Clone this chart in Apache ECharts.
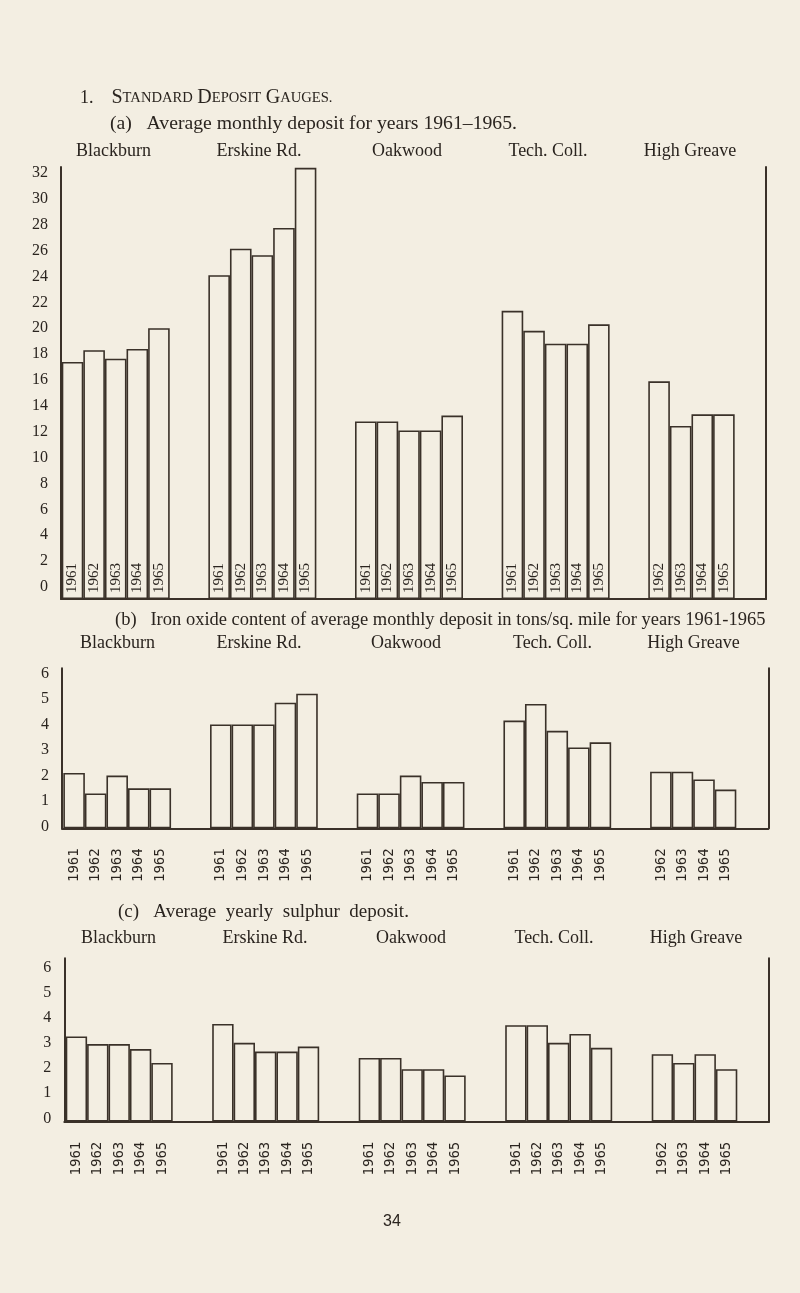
<!DOCTYPE html>
<html>
<head>
<meta charset="utf-8">
<script src="https://cdn.jsdelivr.net/npm/echarts@6/dist/echarts.min.js"></script>
<style>
html,body{margin:0;padding:0;background:#f3eee2;}
#chart{width:800px;height:1293px;}
</style>
</head>
<body>
<div id="chart"></div>
<script>
// ---------------- DATA ----------------
const stations = ['Blackburn', 'Erskine Rd.', 'Oakwood', 'Tech. Coll.', 'High Greave'];
const yearsFull = ['1961', '1962', '1963', '1964', '1965'];
const yearsHighGreave = ['1962', '1963', '1964', '1965'];
const ticksA = ['0','2','4','6','8','10','12','14','16','18','20','22','24','26','28','30','32'];
const ticksBC = ['0','1','2','3','4','5','6'];

// (a) Average monthly deposit
const monthlyBlackburn  = [17.4, 18.3, 17.65, 18.4, 20.0];
const monthlyErskine    = [24.1, 26.15, 25.65, 27.75, 32.4];
const monthlyOakwood    = [12.8, 12.8, 12.1, 12.1, 13.25];
const monthlyTechColl   = [21.35, 19.8, 18.8, 18.8, 20.3];
const monthlyHighGreave = [15.9, 12.45, 13.35, 13.35];

// (b) Iron oxide content of average monthly deposit
const ironBlackburn  = [2.1, 1.3, 2.0, 1.5, 1.5];
const ironErskine    = [4.0, 4.0, 4.0, 4.85, 5.2];
const ironOakwood    = [1.3, 1.3, 2.0, 1.75, 1.75];
const ironTechColl   = [4.15, 4.8, 3.75, 3.1, 3.3];
const ironHighGreave = [2.15, 2.15, 1.85, 1.45];

// (c) Average yearly sulphur deposit
const sulphurBlackburn  = [3.25, 2.95, 2.95, 2.75, 2.2];
const sulphurErskine    = [3.75, 3.0, 2.65, 2.65, 2.85];
const sulphurOakwood    = [2.4, 2.4, 1.95, 1.95, 1.7];
const sulphurTechColl   = [3.7, 3.7, 3.0, 3.35, 2.8];
const sulphurHighGreave = [2.55, 2.2, 2.55, 1.95];

// ---------------- STYLE / LAYOUT ----------------
const BG = '#f3eee2', INK = '#3a3129', TXT = '#2a241f';
const SERIF = '"Liberation Serif", "Times New Roman", serif';
const MONO = '"DejaVu Sans Mono", monospace';

const stationYears = [yearsFull, yearsFull, yearsFull, yearsFull, yearsHighGreave];

const panels = [
  { values: [monthlyBlackburn, monthlyErskine, monthlyOakwood, monthlyTechColl, monthlyHighGreave],
    ticks: ticksA, labelTop: 173, labelZero: 587, base: 599, top: 167,
    frameL: 61, frameR: 766, barL: 42.4, barR: 775.6, barW: 21.6, yearsInside: true },
  { values: [ironBlackburn, ironErskine, ironOakwood, ironTechColl, ironHighGreave],
    ticks: ticksBC, labelTop: 673.3, labelZero: 826.7, base: 828.3, top: 668.3,
    frameL: 62, frameR: 768.3, barL: 43.85, barR: 777.35, barW: 21.55, yearsInside: false },
  { values: [sulphurBlackburn, sulphurErskine, sulphurOakwood, sulphurTechColl, sulphurHighGreave],
    ticks: ticksBC, labelTop: 967.3, labelZero: 1118.3, base: 1121.7, top: 958.3,
    frameL: 64.3, frameR: 769, barL: 45.95, barR: 778.45, barW: 21.4, yearsInside: false }
];

const grid = [], xAxis = [], yAxis = [], series = [];
const noAxis = { axisLine: {show: false}, axisTick: {show: false}, axisLabel: {show: false}, splitLine: {show: false} };
const lineAxis = { axisLine: {show: true, lineStyle: {color: INK, width: 2}}, axisTick: {show: false}, axisLabel: {show: false}, splitLine: {show: false} };

panels.forEach(p => {
  const maxLabel = Number(p.ticks[p.ticks.length - 1]);
  const unit = (p.labelZero - p.labelTop) / maxLabel;
  const barMax = (p.base - p.top) / unit;
  const offset = (p.base - p.labelZero) / unit;
  const catW = (p.barR - p.barL) / stations.length;
  const catGap = ((1 - 5 * p.barW / catW) * 100).toFixed(2) + '%';

  // bars grid
  const gBar = grid.length;
  grid.push({left: p.barL, width: p.barR - p.barL, top: p.top, height: p.base - p.top, outerBoundsMode: 'none'});
  const xBar = xAxis.length;
  xAxis.push(Object.assign({gridIndex: gBar, type: 'category', data: stations}, noAxis));
  const yBar = yAxis.length;
  yAxis.push(Object.assign({gridIndex: gBar, type: 'value', min: 0, max: barMax}, noAxis));

  // frame grid
  const gFrame = grid.length;
  grid.push({left: p.frameL, width: p.frameR - p.frameL, top: p.top, height: p.base - p.top, outerBoundsMode: 'none'});
  xAxis.push(Object.assign({gridIndex: gFrame, type: 'value', min: 0, max: 1, position: 'bottom'}, lineAxis));
  yAxis.push(Object.assign({gridIndex: gFrame, type: 'value', min: 0, max: 1, position: 'left'}, lineAxis));
  yAxis.push(Object.assign({gridIndex: gFrame, type: 'value', min: 0, max: 1, position: 'right'}, lineAxis));

  // tick label grid
  const gLab = grid.length;
  grid.push({left: p.frameL, width: p.frameR - p.frameL, top: p.labelTop, height: p.labelZero - p.labelTop, outerBoundsMode: 'none'});
  xAxis.push(Object.assign({gridIndex: gLab, type: 'value', min: 0, max: 1}, noAxis));
  yAxis.push({gridIndex: gLab, type: 'category', data: p.ticks, boundaryGap: false,
    axisLine: {show: false}, axisTick: {show: false}, splitLine: {show: false},
    axisLabel: {show: true, interval: 0, margin: 13, fontFamily: SERIF, fontSize: 16, color: TXT}});

  for (let k = 0; k < 5; k++) {
    const label = p.yearsInside
      ? {show: true, position: 'insideBottom', distance: 6, rotate: 90, align: 'left', verticalAlign: 'middle',
         fontFamily: SERIF, fontSize: 15, color: TXT}
      : {show: true, position: 'bottom', distance: 20, rotate: 90, align: 'right', verticalAlign: 'middle',
         fontFamily: MONO, fontSize: 14, color: TXT};
    label.formatter = params => stationYears[params.dataIndex][k] || '';
    series.push({
      type: 'bar', xAxisIndex: xBar, yAxisIndex: yBar,
      data: p.values.map(arr => arr[k] == null ? '-' : +(arr[k] + offset).toFixed(3)),
      barGap: '0%', barCategoryGap: catGap,
      itemStyle: {color: BG, borderColor: INK, borderWidth: 1.6},
      emphasis: {disabled: true},
      label: label
    });
  }
});

function t(text, x, y, size, align, extra) {
  return Object.assign({
    text: text, left: x, top: y, textAlign: align || 'left', textVerticalAlign: 'middle', padding: 0,
    textStyle: {fontFamily: SERIF, fontSize: size, fontWeight: 'normal', color: TXT}
  }, extra || {});
}

const title = [
  t('{n|1.}    {b|S}{s|TANDARD} {b|D}{s|EPOSIT} {b|G}{s|AUGES.}', 80, 98, 18, 'left', {
    textStyle: {fontFamily: SERIF, fontSize: 18, fontWeight: 'normal', color: TXT, rich: {
      n: {fontFamily: SERIF, fontSize: 18, fontWeight: 'normal', color: TXT},
      b: {fontFamily: SERIF, fontSize: 20, fontWeight: 'normal', color: TXT},
      s: {fontFamily: SERIF, fontSize: 14.6, fontWeight: 'normal', color: TXT}
    }}}),
  t('(a)   Average monthly deposit for years 1961\u20131965.', 110, 124, 19.7),
  t(stations[0], 113.5, 151, 18, 'center'),
  t(stations[1], 259, 151, 18, 'center'),
  t(stations[2], 407, 151, 18, 'center'),
  t(stations[3], 548, 151, 18, 'center'),
  t(stations[4], 690, 151, 18, 'center'),
  t('(b)   Iron oxide content of average monthly deposit in tons/sq. mile for years 1961-1965', 115, 620, 18.5),
  t(stations[0], 117.5, 643.5, 18, 'center'),
  t(stations[1], 259, 643.5, 18, 'center'),
  t(stations[2], 406, 643.5, 18, 'center'),
  t(stations[3], 552.5, 643.5, 18, 'center'),
  t(stations[4], 693.5, 643.5, 18, 'center'),
  t('(c)   Average  yearly  sulphur  deposit.', 118, 912.5, 19),
  t(stations[0], 118.5, 938, 18, 'center'),
  t(stations[1], 265, 938, 18, 'center'),
  t(stations[2], 411, 938, 18, 'center'),
  t(stations[3], 554, 938, 18, 'center'),
  t(stations[4], 696, 938, 18, 'center'),
  t('34', 392, 1222, 16, 'center', {textStyle: {fontFamily: '"Liberation Sans", sans-serif', fontSize: 16, fontWeight: 'normal', color: TXT}})
];

const chart = echarts.init(document.getElementById('chart'), null, {renderer: 'canvas'});
chart.setOption({
  backgroundColor: BG,
  animation: false,
  title: title,
  grid: grid,
  xAxis: xAxis,
  yAxis: yAxis,
  series: series
});
</script>
</body>
</html>
